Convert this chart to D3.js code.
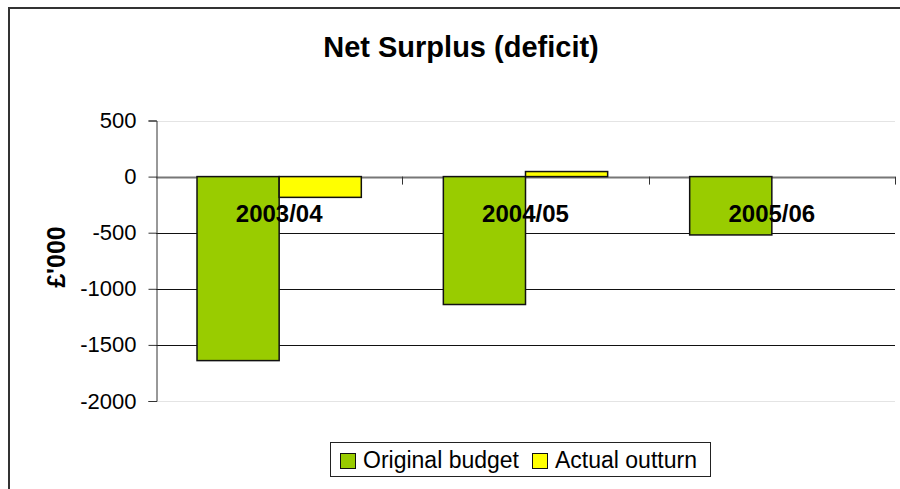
<!DOCTYPE html>
<html>
<head>
<meta charset="utf-8">
<script src="https://cdn.jsdelivr.net/npm/d3@7"></script>
<style>
  body { margin: 0; background: #fff; }
  svg { display: block; font-family: "Liberation Sans", Arial, sans-serif; }
</style>
</head>
<body>
<svg id="chart" width="900" height="489"></svg>
<script>
var categories = ["2003/04", "2004/05", "2005/06"];
var seriesNames = ["Original budget", "Actual outturn"];
var originalBudget = [-1640, -1140, -520];
var actualOutturn = [-185, 45, 0];
var yTicks = [500, 0, -500, -1000, -1500, -2000];
var colors = ["#99cc00", "#ffff00"];

var svg = d3.select("#chart");

// outer chart border
svg.append("path")
   .attr("d", "M9,489V8H900")
   .attr("fill", "none")
   .attr("stroke", "#333")
   .attr("stroke-width", 2);

var plot = { left: 156, right: 895, top: 120.5, bottom: 401 };

var y = d3.scaleLinear()
          .domain([-2000, 500])
          .range([plot.bottom, plot.top]);

var x0 = d3.scaleBand()
           .domain(categories)
           .range([plot.left, plot.right])
           .paddingInner(0.333)
           .paddingOuter(0.1665);

var x1 = d3.scaleBand()
           .domain(seriesNames)
           .range([0, x0.bandwidth()]);

// gridlines
var grid = svg.append("g");
yTicks.forEach(function(t) {
  var edge = (t === 500 || t === -2000);
  grid.append("line")
      .attr("x1", plot.left).attr("x2", plot.right)
      .attr("y1", Math.round(y(t)) + 0.5).attr("y2", Math.round(y(t)) + 0.5)
      .attr("stroke", edge ? "#e4e4e4" : (t === 0 ? "#777" : "#111"))
      .attr("stroke-width", t === 0 ? 2 : 1);
});

// bars
var series = [originalBudget, actualOutturn];
var groups = svg.append("g").selectAll("g")
  .data(categories)
  .enter().append("g")
  .attr("transform", function(d) { return "translate(" + x0(d) + ",0)"; });

groups.selectAll("rect")
  .data(function(d, i) {
    return seriesNames.map(function(s, j) { return { name: s, value: series[j][i], idx: j }; })
                      .filter(function(e) { return e.value !== 0; });
  })
  .enter().append("rect")
  .attr("x", function(d) { return x1(d.name); })
  .attr("width", x1.bandwidth())
  .attr("y", function(d) { return y(Math.max(0, d.value)); })
  .attr("height", function(d) { return Math.abs(y(d.value) - y(0)); })
  .attr("fill", function(d) { return colors[d.idx]; })
  .attr("stroke", "#111")
  .attr("stroke-width", 1.5);

// y axis
var yAxis = d3.axisLeft(y)
              .tickValues(yTicks)
              .tickSize(8)
              .tickPadding(12)
              .tickFormat(function(d) { return String(d); });

var ya = svg.append("g")
  .attr("transform", "translate(" + (plot.left + 0.5) + ",0)")
  .call(yAxis);
ya.select(".domain").attr("stroke", "#333");
ya.selectAll(".tick line").attr("stroke", "#333");
ya.selectAll("text")
  .attr("font-size", 22)
  .attr("fill", "#000")
  .attr("font-family", "Liberation Sans, Arial, sans-serif");

// category axis on the zero line
var xAxisG = svg.append("g");
var bounds = categories.map(function(c) { return x0(c) + x0.bandwidth() + x0.step() * 0.333 / 2; });
bounds.forEach(function(b) {
  xAxisG.append("line")
        .attr("x1", Math.round(b) + 0.5).attr("x2", Math.round(b) + 0.5)
        .attr("y1", y(0)).attr("y2", y(0) + 8)
        .attr("stroke", "#333");
});
xAxisG.selectAll("text")
  .data(categories)
  .enter().append("text")
  .attr("x", function(d) { return x0(d) + x0.bandwidth() / 2; })
  .attr("y", 221.5)
  .attr("text-anchor", "middle")
  .attr("font-size", 24)
  .attr("font-weight", "bold")
  .text(function(d) { return d; });

// title
svg.append("text")
   .attr("x", 461)
   .attr("y", 57)
   .attr("text-anchor", "middle")
   .attr("font-size", 29)
   .attr("font-weight", "bold")
   .text("Net Surplus (deficit)");

// y axis title
svg.append("text")
   .attr("transform", "translate(65,257) rotate(-90)")
   .attr("text-anchor", "middle")
   .attr("font-size", 25)
   .attr("font-weight", "bold")
   .text("£'000");

// legend
var legend = svg.append("g");
legend.append("rect")
      .attr("x", 330.5).attr("y", 442.5)
      .attr("width", 380).attr("height", 34)
      .attr("fill", "#fff")
      .attr("stroke", "#222");

var legendX = [340, 532];
seriesNames.forEach(function(s, i) {
  legend.append("rect")
        .attr("x", legendX[i] + 0.5).attr("y", 453.5)
        .attr("width", 15).attr("height", 15)
        .attr("fill", colors[i])
        .attr("stroke", "#111");
  legend.append("text")
        .attr("x", legendX[i] + 23)
        .attr("y", 468)
        .attr("font-size", 23)
        .text(s);
});
</script>
</body>
</html>
